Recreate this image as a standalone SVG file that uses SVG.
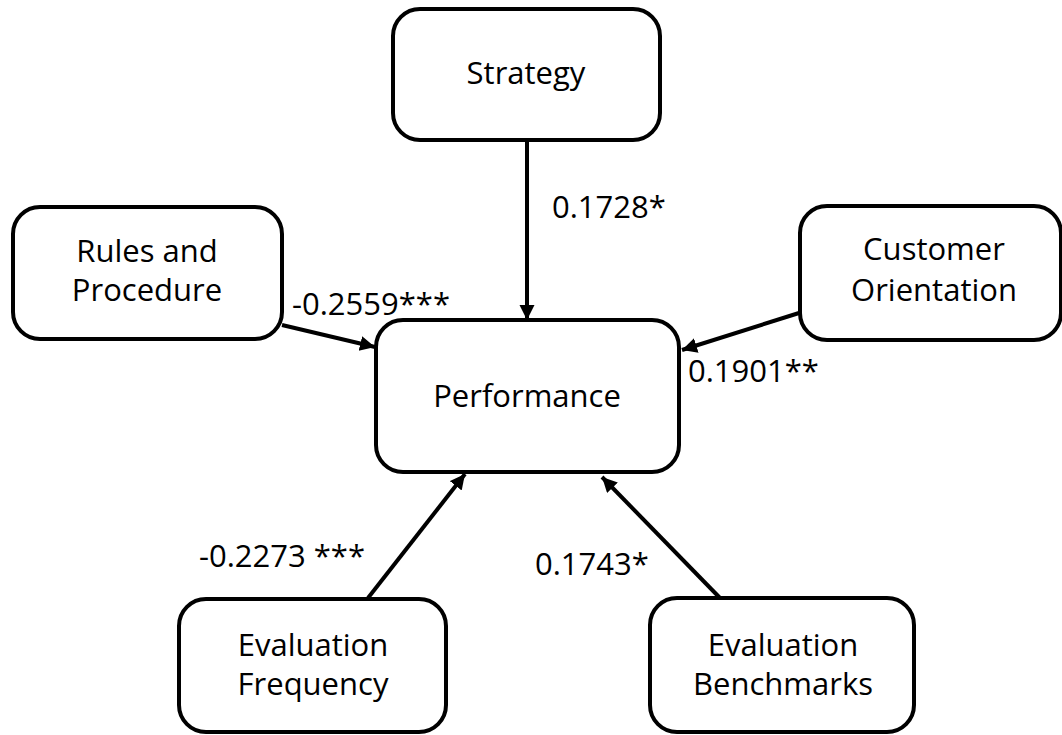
<svg xmlns="http://www.w3.org/2000/svg" width="1062" height="735" viewBox="0 0 1062 735">
<style>
.box{fill:#fff;stroke:#000;stroke-width:4}
.lbl{font-family:"Open Sans","Liberation Sans",sans-serif;font-size:31px;fill:#000}
.c{text-anchor:middle}
.edge{stroke:#000;stroke-width:4;fill:none;marker-end:url(#ah)}
</style>
<defs>
<marker id="ah" markerUnits="userSpaceOnUse" markerWidth="16" markerHeight="16" refX="15" refY="7.5" orient="auto">
<path d="M0,0 L15,7.5 L0,15 z" fill="#000"/>
</marker>
</defs>
<rect width="1062" height="735" fill="#fff"/>
<g id="connectors">
<line class="edge" x1="527" y1="140" x2="527" y2="320"/>
<line class="edge" x1="282" y1="325" x2="375" y2="347"/>
<line class="edge" x1="799" y1="313" x2="682" y2="350"/>
<line class="edge" x1="368" y1="598" x2="465" y2="474"/>
<line class="edge" x1="720" y1="598" x2="602" y2="477"/>
<text class="lbl" x="552" y="218">0.1728*</text>
<text class="lbl" x="292" y="315">-0.2559***</text>
<text class="lbl" x="688" y="382">0.1901**</text>
<text class="lbl" x="199" y="567">-0.2273 ***</text>
<text class="lbl" x="535" y="575">0.1743*</text>
</g>
<g id="strategy">
<rect class="box" x="393" y="9" width="267" height="131" rx="27"/>
<text class="lbl c" x="526" y="84">Strategy</text>
</g>
<g id="rules">
<rect class="box" x="13" y="207" width="269" height="132" rx="27"/>
<text class="lbl c" x="147" y="262">Rules and</text>
<text class="lbl c" x="147" y="301">Procedure</text>
</g>
<g id="customer">
<rect class="box" x="800" y="206" width="261" height="134" rx="27"/>
<text class="lbl c" x="934" y="260">Customer</text>
<text class="lbl c" x="934" y="301">Orientation</text>
</g>
<g id="performance">
<rect class="box" x="376" y="320" width="303" height="152" rx="27"/>
<text class="lbl c" x="527" y="407">Performance</text>
</g>
<g id="frequency">
<rect class="box" x="179" y="599" width="267" height="133" rx="27"/>
<text class="lbl c" x="313" y="656">Evaluation</text>
<text class="lbl c" x="313" y="695">Frequency</text>
</g>
<g id="benchmarks">
<rect class="box" x="650" y="598" width="264" height="134" rx="27"/>
<text class="lbl c" x="783" y="656">Evaluation</text>
<text class="lbl c" x="783" y="695">Benchmarks</text>
</g>
</svg>
